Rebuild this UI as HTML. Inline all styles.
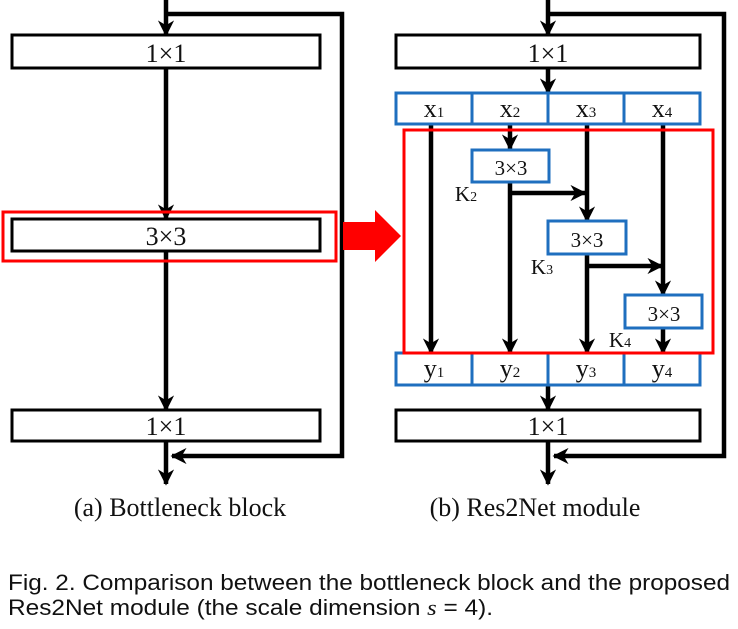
<!DOCTYPE html>
<html><head><meta charset="utf-8"><style>body{margin:0;background:#fff}svg{display:block}</style></head><body>
<svg width="738" height="629" viewBox="0 0 738 629" xmlns="http://www.w3.org/2000/svg">
<defs>
<marker id="a" viewBox="0 0 10 10" refX="9" refY="5" markerWidth="3.6" markerHeight="3.6" orient="auto"><path d="M0,0 L10,5 L0,10 L3,5 z" fill="#000"/></marker>
</defs>
<g stroke="#000" stroke-width="4.5" fill="none">
<line x1="166" y1="0" x2="166" y2="35" marker-end="url(#a)"/>
<polyline points="166,14 342,14 342,456 172,456" marker-end="url(#a)"/>
<line x1="166" y1="68" x2="166" y2="219" marker-end="url(#a)"/>
<line x1="166" y1="251" x2="166" y2="410" marker-end="url(#a)"/>
<line x1="166" y1="441" x2="166" y2="484" marker-end="url(#a)"/>
<line x1="548" y1="0" x2="548" y2="35" marker-end="url(#a)"/>
<polyline points="548,14 724,14 724,456 554,456" marker-end="url(#a)"/>
<line x1="548" y1="68" x2="548" y2="93" marker-end="url(#a)"/>
<line x1="548" y1="385" x2="548" y2="410" marker-end="url(#a)"/>
<line x1="548" y1="441" x2="548" y2="484" marker-end="url(#a)"/>
<line x1="431" y1="124" x2="431" y2="353" marker-end="url(#a)"/>
<line x1="510" y1="124" x2="510" y2="149" marker-end="url(#a)"/>
<line x1="510" y1="181" x2="510" y2="353" marker-end="url(#a)"/>
<polyline points="510,193 585,193" marker-end="url(#a)"/>
<line x1="587" y1="124" x2="587" y2="221" marker-end="url(#a)"/>
<line x1="587" y1="254" x2="587" y2="353" marker-end="url(#a)"/>
<polyline points="587,266 662,266" marker-end="url(#a)"/>
<line x1="663" y1="124" x2="663" y2="295" marker-end="url(#a)"/>
<line x1="663" y1="328" x2="663" y2="353" marker-end="url(#a)"/>
</g>
<g stroke="#000" stroke-width="3" fill="#fff">
<rect x="12" y="35" width="308" height="33"/>
<rect x="12" y="219" width="308" height="32"/>
<rect x="12" y="410" width="308" height="31"/>
<rect x="396" y="35" width="304" height="33"/>
<rect x="396" y="410" width="304" height="31"/>
</g>
<g stroke="#1f6fbf" stroke-width="3" fill="#fff">
<rect x="396" y="93" width="304" height="31"/>
<line x1="472" y1="93" x2="472" y2="124"/><line x1="548" y1="93" x2="548" y2="124"/><line x1="624" y1="93" x2="624" y2="124"/>
<rect x="396" y="353" width="304" height="32"/>
<line x1="472" y1="353" x2="472" y2="385"/><line x1="548" y1="353" x2="548" y2="385"/><line x1="624" y1="353" x2="624" y2="385"/>
<rect x="472" y="150" width="77" height="32"/>
<rect x="548" y="221" width="78" height="33"/>
<rect x="625" y="295" width="77" height="33"/>
</g>
<rect x="3" y="212" width="333" height="49" fill="none" stroke="#f00" stroke-width="3"/>
<rect x="404" y="130" width="309" height="223" fill="none" stroke="#f00" stroke-width="3"/>
<polygon points="343,222 375,222 375,210 401,236 375,262 375,250 343,250" fill="#f00"/>
<g font-family="Liberation Serif, serif" font-size="26" fill="#111" text-anchor="middle">
<text x="166" y="62">1×1</text><text x="166" y="245">3×3</text><text x="166" y="435">1×1</text>
<text x="548" y="62">1×1</text><text x="548" y="435">1×1</text>
<text x="511" y="175" font-size="21">3×3</text><text x="587" y="247" font-size="21">3×3</text><text x="664" y="321" font-size="21">3×3</text>
<text x="434" y="117">x<tspan font-size="15">1</tspan></text><text x="510" y="117">x<tspan font-size="15">2</tspan></text>
<text x="586" y="117">x<tspan font-size="15">3</tspan></text><text x="662" y="117">x<tspan font-size="15">4</tspan></text>
<text x="434" y="377">y<tspan font-size="15">1</tspan></text><text x="510" y="377">y<tspan font-size="15">2</tspan></text>
<text x="586" y="377">y<tspan font-size="15">3</tspan></text><text x="662" y="377">y<tspan font-size="15">4</tspan></text>
<text x="466" y="201" font-size="21">K<tspan font-size="14">2</tspan></text>
<text x="542" y="274" font-size="21">K<tspan font-size="14">3</tspan></text>
<text x="620" y="347" font-size="21">K<tspan font-size="14">4</tspan></text>
<text x="180" y="516" font-size="26">(a) Bottleneck block</text>
<text x="535" y="516" font-size="26">(b) Res2Net module</text>
</g>
<g font-family="Liberation Sans, sans-serif" font-size="22" fill="#111">
<text x="8" y="590" textLength="722" lengthAdjust="spacingAndGlyphs">Fig. 2. Comparison between the bottleneck block and the proposed</text>
<text x="8" y="615" textLength="485" lengthAdjust="spacingAndGlyphs">Res2Net module (the scale dimension <tspan font-family="Liberation Serif, serif" font-style="italic">s</tspan> = 4).</text>
</g>
</svg>
</body></html>
